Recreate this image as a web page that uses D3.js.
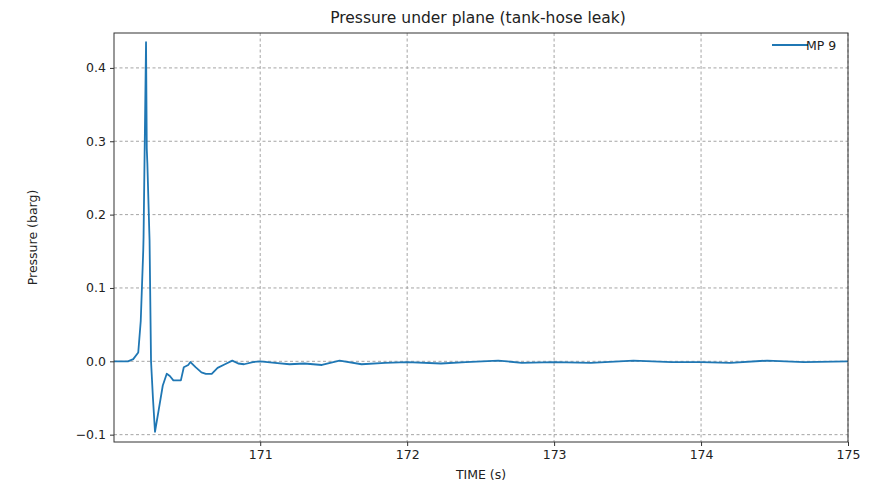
<!DOCTYPE html>
<html>
<head>
<meta charset="utf-8">
<script src="https://cdn.jsdelivr.net/npm/d3@7"></script>
<style>
  body { margin: 0; background: #fff; }
  text { font-family: "DejaVu Sans", sans-serif; fill: #222; }
</style>
</head>
<body>
<div id="chart"></div>
<script>
// Data (time in s, pressure in barg)
const times = [
  170.005, 170.10, 170.136, 170.170, 170.187, 170.204, 170.206, 170.223, 170.228, 170.232,
  170.245, 170.247, 170.257, 170.27, 170.284, 170.307, 170.337, 170.364, 170.385, 170.409,
  170.43, 170.46, 170.48, 170.51, 170.525, 170.56, 170.60, 170.63, 170.67, 170.71,
  170.76, 170.81, 170.85, 170.89, 170.95, 171.00, 171.10, 171.20, 171.30, 171.42,
  171.54, 171.69, 171.85, 172.00, 172.23, 172.40, 172.62, 172.78, 173.00, 173.25,
  173.54, 173.80, 174.00, 174.20, 174.45, 174.70, 175.00
];
const pressure = [
  0.000, 0.000, 0.003, 0.012, 0.055, 0.151, 0.168, 0.435, 0.290, 0.270,
  0.178, 0.165, 0.000, -0.050, -0.096, -0.069, -0.033, -0.017, -0.020, -0.026,
  -0.026, -0.026, -0.008, -0.005, -0.001, -0.008, -0.015, -0.017, -0.017, -0.009,
  -0.004, 0.001, -0.003, -0.004, -0.001, 0.000, -0.002, -0.004, -0.003, -0.005,
  0.001, -0.004, -0.002, -0.001, -0.003, -0.001, 0.001, -0.002, -0.001, -0.002,
  0.001, -0.001, -0.001, -0.002, 0.001, -0.001, 0.000
];
const xTicks = [171, 172, 173, 174, 175];
const yTicks = [-0.1, 0.0, 0.1, 0.2, 0.3, 0.4];
const seriesName = 'MP 9';

const W = 875, H = 484;
const margin = { top: 33, right: 27, bottom: 42, left: 114 };
const width = W - margin.left - margin.right;
const height = H - margin.top - margin.bottom;

const svg = d3.select('#chart')
  .append('svg')
  .attr('width', W)
  .attr('height', H);

const g = svg.append('g')
  .attr('transform', `translate(${margin.left}, ${margin.top})`);

const x = d3.scaleLinear().domain([170.005, 175]).range([0, width]);
const y = d3.scaleLinear().domain([-0.110, 0.4476]).range([height, 0]);

// Grid
g.append('g').selectAll('line').data(xTicks).join('line')
  .attr('x1', d => x(d)).attr('x2', d => x(d))
  .attr('y1', 0).attr('y2', height)
  .attr('stroke', '#9a9a9a').attr('stroke-width', 0.9)
  .attr('stroke-dasharray', '3,2.5');
g.append('g').selectAll('line').data(yTicks).join('line')
  .attr('x1', 0).attr('x2', width)
  .attr('y1', d => y(d)).attr('y2', d => y(d))
  .attr('stroke', '#9a9a9a').attr('stroke-width', 0.9)
  .attr('stroke-dasharray', '3,2.5');

// Axes
const xAxis = d3.axisBottom(x).tickValues(xTicks).tickFormat(d3.format('d'))
  .tickSizeInner(4).tickSizeOuter(0).tickPadding(4);
const yAxis = d3.axisLeft(y).tickValues(yTicks)
  .tickFormat(d => d3.format('.1f')(d).replace('-', '\u2212'))
  .tickSizeInner(4).tickSizeOuter(0).tickPadding(4);

const gx = g.append('g')
  .attr('transform', `translate(0, ${height})`)
  .call(xAxis);
const gy = g.append('g').call(yAxis);
[gx, gy].forEach(a => {
  a.select('.domain').remove();
  a.selectAll('text').style('font-family', '"DejaVu Sans", sans-serif')
    .style('font-size', '12.5px').attr('fill', '#222');
  a.selectAll('line').attr('stroke', '#333');
});

// Line
const line = d3.line()
  .x((d, i) => x(times[i]))
  .y(d => y(d));
g.append('path')
  .datum(pressure)
  .attr('fill', 'none')
  .attr('stroke', '#1f77b4')
  .attr('stroke-width', 1.8)
  .attr('stroke-linejoin', 'round')
  .attr('d', line);

// Frame
g.append('rect')
  .attr('width', width).attr('height', height)
  .attr('fill', 'none').attr('stroke', '#333').attr('stroke-width', 1);

// Legend
const lg = g.append('g').attr('transform', `translate(${width - 76}, 12)`);
lg.append('line').attr('x1', 0).attr('x2', 36).attr('y1', 0).attr('y2', 0)
  .attr('stroke', '#1f77b4').attr('stroke-width', 1.8);
lg.append('text').attr('x', 34).attr('y', 4.5)
  .style('font-size', '12.5px').text(seriesName);

// Titles
svg.append('text')
  .attr('x', margin.left + width / 2 - 3).attr('y', 23)
  .attr('text-anchor', 'middle')
  .style('font-size', '15.5px')
  .text('Pressure under plane (tank-hose leak)');
svg.append('text')
  .attr('x', margin.left + width / 2).attr('y', 479)
  .attr('text-anchor', 'middle')
  .style('font-size', '12.5px')
  .text('TIME (s)');
svg.append('text')
  .attr('transform', `translate(37, ${margin.top + height / 2}) rotate(-90)`)
  .attr('text-anchor', 'middle')
  .style('font-size', '12.5px')
  .text('Pressure (barg)');
</script>
</body>
</html>
